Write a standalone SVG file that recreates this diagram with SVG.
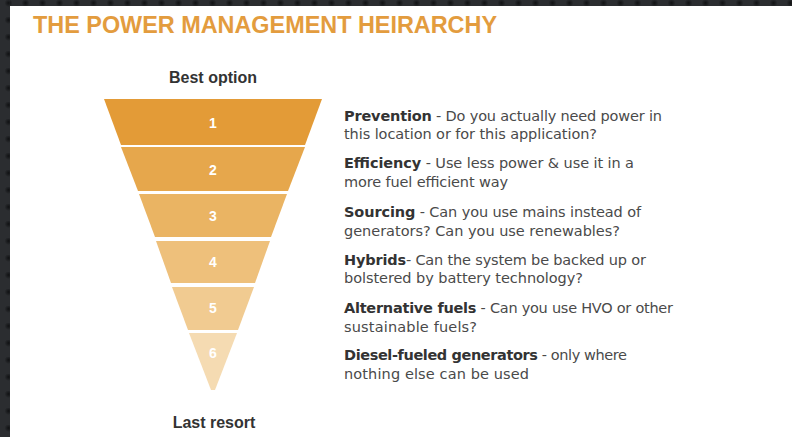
<svg xmlns="http://www.w3.org/2000/svg" width="792" height="437" viewBox="0 0 792 437">
  <defs>
    <radialGradient id="dotShade">
      <stop offset="0" stop-color="#101113"/>
      <stop offset="1" stop-color="#2b2d30"/>
    </radialGradient>
    <pattern id="frameTexture" width="17" height="17" patternUnits="userSpaceOnUse">
      <rect width="17" height="17" fill="#2b2d30"/>
      <circle cx="8.5" cy="3" r="4" fill="url(#dotShade)"/>
    </pattern>
  </defs>
  <style>
    .title { font-family: "Liberation Sans", Arial, sans-serif; font-weight: bold; font-size: 23px; fill: #E39C3E; }
    .cap { font-family: "Liberation Sans", Arial, sans-serif; font-weight: bold; font-size: 16px; fill: #333333; text-anchor: middle; }
    .num { font-family: "Liberation Sans", Arial, sans-serif; font-weight: bold; font-size: 14px; fill: #ffffff; text-anchor: middle; }
    .desc { font-family: "DejaVu Sans", "Liberation Sans", sans-serif; font-size: 14.5px; fill: #4a4a4a; }
    .desc .lead { font-weight: bold; fill: #333333; }
  </style>

  <!-- textured frame and white page -->
  <rect width="792" height="437" fill="url(#frameTexture)"/>
  <rect x="10" y="6" width="782" height="431" fill="#ffffff"/>

  <text class="title" x="33" y="33" textLength="464" lengthAdjust="spacingAndGlyphs">THE POWER MANAGEMENT HEIRARCHY</text>

  <text class="cap" x="213" y="83">Best option</text>
  <text class="cap" x="214" y="428">Last resort</text>

  <!-- funnel levels -->
  <g id="level1">
    <polygon points="104,99 322,99 305,145 121,145" fill="#E39B37"/>
    <text class="num" x="213" y="128">1</text>
  </g>
  <g id="level2">
    <polygon points="121,147 305,147 288,191 138,191" fill="#E6A74C"/>
    <text class="num" x="213" y="175">2</text>
  </g>
  <g id="level3">
    <polygon points="139,194 287,194 271,237 155,237" fill="#EAB463"/>
    <text class="num" x="213" y="221">3</text>
  </g>
  <g id="level4">
    <polygon points="156,241 270,241 255,283 171,283" fill="#EEC07B"/>
    <text class="num" x="213" y="267">4</text>
  </g>
  <g id="level5">
    <polygon points="172,287 254,287 238,330 188,330" fill="#F1CB91"/>
    <text class="num" x="213" y="313">5</text>
  </g>
  <g id="level6">
    <polygon points="189,333 237,333 215,390 211,390" fill="#F5DBB2"/>
    <text class="num" x="213" y="358">6</text>
  </g>

  <!-- descriptions -->
  <g id="desc1">
    <text class="desc" x="344" y="121" textLength="318"><tspan class="lead">Prevention</tspan> - Do you actually need power in</text>
    <text class="desc" x="344" y="139" textLength="253">this location or for this application?</text>
  </g>
  <g id="desc2">
    <text class="desc" x="344" y="168" textLength="290"><tspan class="lead">Efficiency</tspan> - Use less power &amp; use it in a</text>
    <text class="desc" x="344" y="187" textLength="164">more fuel efficient way</text>
  </g>
  <g id="desc3">
    <text class="desc" x="344" y="217" textLength="297"><tspan class="lead">Sourcing</tspan> - Can you use mains instead of</text>
    <text class="desc" x="344" y="236" textLength="276">generators? Can you use renewables?</text>
  </g>
  <g id="desc4">
    <text class="desc" x="344" y="265" textLength="302"><tspan class="lead">Hybrids</tspan>- Can the system be backed up or</text>
    <text class="desc" x="344" y="283" textLength="239">bolstered by battery technology?</text>
  </g>
  <g id="desc5">
    <text class="desc" x="344" y="313" textLength="329"><tspan class="lead">Alternative fuels</tspan> - Can you use HVO or other</text>
    <text class="desc" x="344" y="332" textLength="133">sustainable fuels?</text>
  </g>
  <g id="desc6">
    <text class="desc" x="344" y="360" textLength="283"><tspan class="lead">Diesel-fueled generators</tspan> - only where</text>
    <text class="desc" x="344" y="379" textLength="185">nothing else can be used</text>
  </g>
</svg>
